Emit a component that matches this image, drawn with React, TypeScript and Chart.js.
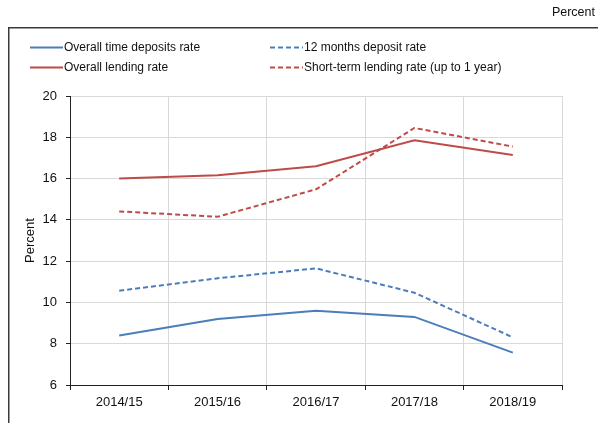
import React, { useEffect, useRef } from "react";
import { Chart, registerables } from "chart.js";

Chart.register(...registerables);

const categories = ["2014/15", "2015/16", "2016/17", "2017/18", "2018/19"];
const overallTimeDeposits = [8.4, 9.2, 9.6, 9.3, 7.57];
const twelveMonthsDeposit = [10.57, 11.17, 11.65, 10.47, 8.31];
const overallLending = [16.0, 16.16, 16.6, 17.86, 17.14];
const shortTermLending = [14.41, 14.15, 15.48, 18.45, 17.55];
const yTicks = { min: 6, max: 20, step: 2 };

const BLUE = "#4a7ebb";
const RED = "#be4b48";
const FONT = "'Liberation Sans', Arial, Helvetica, sans-serif";
const DASH = [5, 3];

const legendItems = [
  { label: "Overall time deposits rate", color: BLUE, dash: [] as number[], col: 0, row: 0 },
  { label: "12 months deposit rate", color: BLUE, dash: DASH, col: 1, row: 0 },
  { label: "Overall lending rate", color: RED, dash: [] as number[], col: 0, row: 1 },
  { label: "Short-term lending rate (up to 1 year)", color: RED, dash: DASH, col: 1, row: 1 },
];

const decorPlugin = {
  id: "decor",
  afterDraw(chart: any) {
    const ctx = chart.ctx;
    ctx.save();
    // outer frame
    ctx.strokeStyle = "#3a3a3a";
    ctx.lineWidth = 1.5;
    ctx.strokeRect(8.75, 27.75, 800, 600);
    // top-right unit label
    ctx.fillStyle = "#111";
    ctx.font = "12.5px " + FONT;
    ctx.textAlign = "right";
    ctx.textBaseline = "middle";
    ctx.fillText("Percent", 595, 13);
    // legend
    ctx.font = "12px " + FONT;
    ctx.textAlign = "left";
    legendItems.forEach((it) => {
      const x0 = it.col === 0 ? 30 : 270;
      const y = it.row === 0 ? 47.5 : 67.5;
      ctx.strokeStyle = it.color;
      ctx.lineWidth = 2;
      ctx.setLineDash(it.dash);
      ctx.beginPath();
      ctx.moveTo(x0, y);
      ctx.lineTo(x0 + 33, y);
      ctx.stroke();
      ctx.setLineDash([]);
      ctx.fillStyle = "#111";
      ctx.fillText(it.label, x0 + 34, y);
    });
    ctx.restore();
  },
};

export default function App() {
  const ref = useRef<HTMLCanvasElement>(null);
  useEffect(() => {
    if (!ref.current) return;
    const chart = new Chart(ref.current, {
      type: "line",
      data: {
        labels: categories,
        datasets: [
          { label: "Overall time deposits rate", data: overallTimeDeposits, borderColor: BLUE, borderWidth: 2 },
          { label: "12 months deposit rate", data: twelveMonthsDeposit, borderColor: BLUE, borderWidth: 2, borderDash: DASH },
          { label: "Overall lending rate", data: overallLending, borderColor: RED, borderWidth: 2 },
          { label: "Short-term lending rate (up to 1 year)", data: shortTermLending, borderColor: RED, borderWidth: 2, borderDash: DASH },
        ].map((d) => ({ ...d, pointRadius: 0, tension: 0, fill: false })),
      },
      options: {
        responsive: false,
        animation: false,
        layout: { padding: { left: 0, right: 36, top: 96, bottom: 0 } },
        plugins: { legend: { display: false }, tooltip: { enabled: false } },
        scales: {
          x: {
            offset: true,
            grid: { offset: true, color: "#d9d9d9", tickColor: "#222", tickLength: 5, lineWidth: 1 },
            border: { color: "#222", width: 1 },
            ticks: { color: "#111", font: { family: FONT, size: 13 }, padding: 5, maxRotation: 0 },
            afterFit: (s: any) => { s.height = 38; },
          },
          y: {
            min: yTicks.min,
            max: yTicks.max,
            ticks: { stepSize: yTicks.step, color: "#111", font: { family: FONT, size: 13 }, padding: 9 },
            grid: { color: "#d9d9d9", tickColor: "#222", tickLength: 4 },
            border: { color: "#222", width: 1 },
            title: { display: true, text: "Percent", color: "#111", font: { family: FONT, size: 13 }, padding: { top: 23, bottom: 0 } },
            afterFit: (s: any) => { s.width = 70; },
          },
        },
      },
      plugins: [decorPlugin],
    });
    return () => chart.destroy();
  }, []);
  return (
    <div style={{ position: "absolute", left: 0, top: 0, width: 598, height: 423, background: "#fff" }}>
      <canvas ref={ref} width={598} height={423} style={{ display: "block" }} />
    </div>
  );
}
